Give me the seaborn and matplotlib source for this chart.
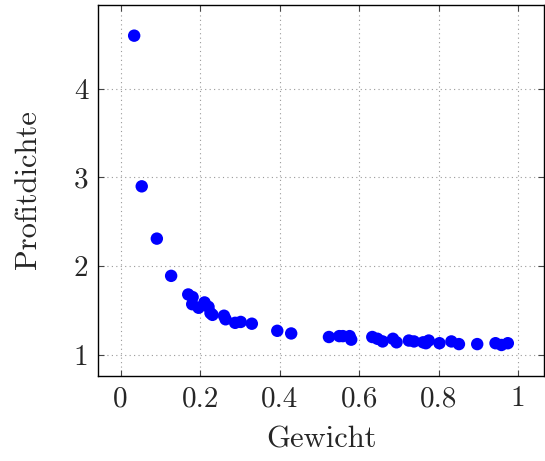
import matplotlib
matplotlib.use("Agg")
import matplotlib.pyplot as plt
import seaborn as sns
import pandas as pd

gewicht = [0.034, 0.053, 0.091, 0.127, 0.170, 0.181, 0.180, 0.196, 0.211, 0.221,
           0.226, 0.231, 0.260, 0.264, 0.288, 0.302, 0.330, 0.394, 0.429, 0.524,
           0.550, 0.559, 0.576, 0.580, 0.633, 0.646, 0.659, 0.685, 0.694, 0.725,
           0.738, 0.761, 0.775, 0.768, 0.802, 0.832, 0.851, 0.897, 0.943, 0.958,
           0.974]
profitdichte = [4.60, 2.90, 2.31, 1.89, 1.68, 1.65, 1.57, 1.53, 1.59, 1.54,
                1.47, 1.45, 1.44, 1.40, 1.36, 1.37, 1.35, 1.27, 1.24, 1.20,
                1.21, 1.21, 1.21, 1.17, 1.20, 1.18, 1.15, 1.18, 1.14, 1.16,
                1.15, 1.14, 1.16, 1.13, 1.13, 1.15, 1.12, 1.12, 1.13, 1.11,
                1.13]
xticks = [0, 0.2, 0.4, 0.6, 0.8, 1]
xticklabels = ["0", "0.2", "0.4", "0.6", "0.8", "1"]
yticks = [1, 2, 3, 4]
yticklabels = ["1", "2", "3", "4"]

sns.set_style("ticks")
plt.rcParams["font.family"] = ["cmr10", "DejaVu Serif"]
plt.rcParams["mathtext.fontset"] = "cm"
plt.rcParams["axes.formatter.use_mathtext"] = True

df = pd.DataFrame({"Gewicht": gewicht, "Profitdichte": profitdichte})

fig = plt.figure(figsize=(5.45, 4.61), dpi=100)
ax = fig.add_axes([98/545, 1 - 376/461, (544 - 98)/545, (376 - 5)/461])

sns.scatterplot(data=df, x="Gewicht", y="Profitdichte", ax=ax, color=(0, 0, 1),
                s=80, edgecolor="none", linewidth=0, zorder=3)

ax.set_xlim(-0.057, 1.065)
ax.set_ylim(0.76, 4.946)
ax.set_xticks(xticks)
ax.set_xticklabels(xticklabels)
ax.set_yticks(yticks)
ax.set_yticklabels(yticklabels)
ax.grid(True, linestyle=(0, (1, 3)), color="#9a9a9a", linewidth=0.8)
ax.tick_params(direction="in", length=4, width=0.8, labelsize=21, color="#444444",
               top=True, right=True)
ax.tick_params(axis="x", pad=7)
ax.tick_params(axis="y", pad=7)
for sp in ax.spines.values():
    sp.set_linewidth(1.0)
    sp.set_color("black")
ax.set_xlabel("Gewicht", fontsize=22, va="center")
ax.set_ylabel("Profitdichte", fontsize=22, va="center")
ax.xaxis.set_label_coords(0.5 - (98 + 446 / 2 - 321) / 446, (376 - 440) / 371)
ax.yaxis.set_label_coords((28 - 98) / 446, (376 - 190) / 371)

fig.savefig("out.png", dpi=100)
